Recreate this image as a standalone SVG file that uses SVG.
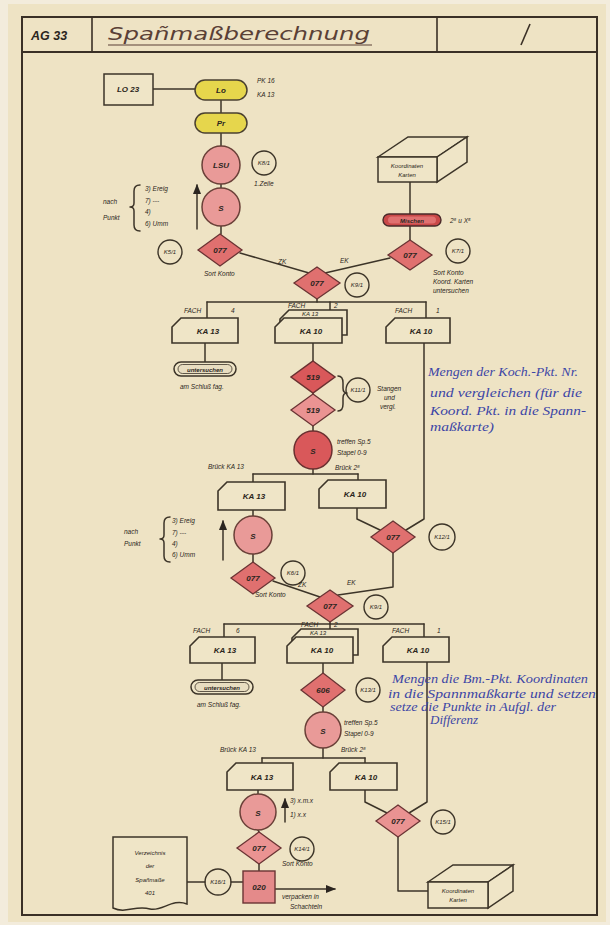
<svg xmlns="http://www.w3.org/2000/svg" width="610" height="925" viewBox="0 0 610 925">
  <defs>
    <style>
      .ln { stroke:#3c3428; stroke-width:1.5; fill:none; stroke-linecap:round; stroke-linejoin:round; }
      .box { stroke:#3c3428; stroke-width:1.5; fill:#efe5c7; }
      .card { stroke:#3c3428; stroke-width:1.6; fill:#efe5c7; }
      .yel { stroke:#4a4030; stroke-width:1.5; fill:#e6d64c; }
      .pink { stroke:#6a4038; stroke-width:1.5; fill:#e99a98; }
      .red { stroke:#6a3030; stroke-width:1.5; fill:#d9585a; }
      .dia { stroke:#6a3434; stroke-width:1.3; fill:#e0706f; }
      .dia2 { stroke:#6a3434; stroke-width:1.3; fill:#ea9392; }
      .ref { stroke:#3c3428; stroke-width:1.4; fill:none; }
      .t { font-family:"Liberation Sans", Arial, sans-serif; font-style:italic; fill:#2b2520; }
      .nl { font-size:8px; font-weight:bold; text-anchor:middle; }
      .sm { font-size:6.5px; }
      .rt { font-size:6px; text-anchor:middle; }
      .blue { font-family:"Liberation Serif", "Times New Roman", serif; font-style:italic; fill:#3c46a6; font-size:12px; }
    </style>
    <marker id="arr" viewBox="0 0 10 10" refX="9" refY="5" markerWidth="7" markerHeight="7" orient="auto-start-reverse">
      <path d="M0,1 L10,5 L0,9 Z" fill="#2b2520"/>
    </marker>
  </defs>

  <!-- paper -->
  <rect x="0" y="0" width="610" height="925" fill="#f3ecdc"/>
  <rect x="8" y="4" width="598" height="918" fill="#eee3c4"/>

  <!-- frame and title block -->
  <g id="frame">
    <rect x="22" y="17" width="575" height="898" fill="none" stroke="#3a3026" stroke-width="2"/>
    <line x1="22" y1="52" x2="597" y2="52" stroke="#3a3026" stroke-width="2"/>
    <line x1="92" y1="17" x2="92" y2="52" stroke="#3a3026" stroke-width="1.6"/>
    <line x1="437" y1="17" x2="437" y2="52" stroke="#3a3026" stroke-width="1.6"/>
    <text class="t" x="31" y="40" font-size="12.5" font-weight="bold" fill="#3a2c26">AG 33</text>
    <text x="108" y="40" font-family="'DejaVu Sans', sans-serif" font-style="italic" font-size="17" textLength="262" lengthAdjust="spacingAndGlyphs" fill="#5a4036">Spañmaßberechnung</text>
    <line x1="108" y1="45" x2="372" y2="45" stroke="#5a4036" stroke-width="1.2"/>
    <line x1="521" y1="45" x2="530" y2="24" stroke="#3a3026" stroke-width="1.6"/>
  </g>

  <!-- connectors -->
  <g id="connectors">
    <line class="ln" x1="153" y1="89" x2="195" y2="89"/>
    <line class="ln" x1="221" y1="100" x2="221" y2="113"/>
    <line class="ln" x1="221" y1="133" x2="221" y2="146"/>
    <line class="ln" x1="221" y1="184" x2="221" y2="188"/>
    <line class="ln" x1="221" y1="226" x2="221" y2="234"/>
    <line class="ln" x1="240" y1="253" x2="309" y2="273"/>
    <line class="ln" x1="390" y1="258" x2="325" y2="273"/>
    <line class="ln" x1="410" y1="182" x2="410" y2="215"/>
    <line class="ln" x1="410" y1="226" x2="410" y2="240"/>
    <line class="ln" x1="317" y1="299" x2="317" y2="302"/>
    <!-- first distribution -->
    <line class="ln" x1="207" y1="302" x2="426" y2="302"/>
    <line class="ln" x1="207" y1="302" x2="207" y2="318"/>
    <line class="ln" x1="330" y1="302" x2="330" y2="310"/>
    <line class="ln" x1="426" y1="302" x2="426" y2="318"/>
    <line class="ln" x1="205" y1="343" x2="205" y2="362"/>
    <line class="ln" x1="313" y1="343" x2="313" y2="361"/>
    <line class="ln" x1="313" y1="393" x2="313" y2="394"/>
    <line class="ln" x1="313" y1="426" x2="313" y2="431"/>
    <line class="ln" x1="313" y1="469" x2="313" y2="474"/>
    <path class="ln" d="M338,376 Q343,376 343,383 V388 Q343,393 347,393 Q343,393 343,398 V404 Q343,411 338,411"/>
    <polyline class="ln" points="424,343 424,519 406,530"/>
    <!-- second distribution -->
    <line class="ln" x1="253" y1="474" x2="358" y2="474"/>
    <line class="ln" x1="253" y1="474" x2="253" y2="482"/>
    <line class="ln" x1="358" y1="474" x2="358" y2="480"/>
    <polyline class="ln" points="357,508 357,519 380,530"/>
    <polyline class="ln" points="393,553 393,587 338,595"/>
    <line class="ln" x1="253" y1="510" x2="253" y2="516"/>
    <line class="ln" x1="253" y1="554" x2="253" y2="562"/>
    <line class="ln" x1="273" y1="581" x2="320" y2="597"/>
    <line class="ln" x1="330" y1="622" x2="330" y2="624"/>
    <!-- third distribution -->
    <line class="ln" x1="224" y1="624" x2="424" y2="624"/>
    <line class="ln" x1="224" y1="624" x2="224" y2="637"/>
    <line class="ln" x1="330" y1="624" x2="330" y2="629"/>
    <line class="ln" x1="424" y1="624" x2="424" y2="637"/>
    <line class="ln" x1="222" y1="663" x2="222" y2="680"/>
    <line class="ln" x1="323" y1="663" x2="323" y2="673"/>
    <line class="ln" x1="323" y1="707" x2="323" y2="712"/>
    <line class="ln" x1="323" y1="748" x2="323" y2="758"/>
    <!-- fourth distribution -->
    <line class="ln" x1="262" y1="758" x2="365" y2="758"/>
    <line class="ln" x1="262" y1="758" x2="262" y2="763"/>
    <line class="ln" x1="365" y1="758" x2="365" y2="763"/>
    <polyline class="ln" points="427,662 427,802 409,813"/>
    <polyline class="ln" points="365,790 365,802 387,813"/>
    <polyline class="ln" points="398,837 398,891 428,891"/>
    <line class="ln" x1="258" y1="790" x2="258" y2="794"/>
    <line class="ln" x1="258" y1="830" x2="259" y2="832"/>
    <line class="ln" x1="259" y1="864" x2="259" y2="871"/>
    <line class="ln" x1="187" y1="882" x2="205" y2="882"/>
    <line class="ln" x1="231" y1="882" x2="243" y2="882"/>
    <line class="ln" x1="275" y1="889" x2="335" y2="889" marker-end="url(#arr)"/>
    <!-- side arrows -->
    <line class="ln" x1="197" y1="229" x2="197" y2="185" marker-end="url(#arr)"/>
    <line class="ln" x1="223" y1="560" x2="223" y2="521" marker-end="url(#arr)"/>
    <line class="ln" x1="285" y1="822" x2="285" y2="799" marker-end="url(#arr)"/>
  </g>

  <!-- top chain -->
  <g id="lo23">
    <rect class="box" x="104" y="74" width="49" height="31"/>
    <text class="t nl" x="128" y="92" font-weight="normal">LO 23</text>
  </g>
  <g id="lo">
    <rect class="yel" x="195" y="80" width="52" height="20" rx="10"/>
    <text class="t nl" x="221" y="93">Lo</text>
    <text class="t sm" x="257" y="83">PK 16</text>
    <text class="t sm" x="257" y="97">KA 13</text>
  </g>
  <g id="pr">
    <rect class="yel" x="195" y="113" width="52" height="20" rx="10"/>
    <text class="t nl" x="221" y="126">Pr</text>
  </g>
  <g id="lsu">
    <circle class="pink" cx="221" cy="165" r="19"/>
    <text class="t nl" x="221" y="168">LSU</text>
    <circle class="ref" cx="264" cy="163" r="12"/>
    <text class="t rt" x="264" y="165">K8/1</text>
    <text class="t sm" x="254" y="186">1.Zeile</text>
  </g>
  <g id="s1">
    <circle class="pink" cx="221" cy="207" r="19"/>
    <text class="t nl" x="221" y="211" font-size="10">S</text>
    <text class="t sm" x="103" y="204">nach</text>
    <text class="t sm" x="103" y="220">Punkt</text>
    <path class="ln" d="M140,185 Q134,185 134,191 V203 Q134,207 130,207 Q134,207 134,211 V225 Q134,231 140,231" stroke-width="1.2"/>
    <text class="t sm" x="145" y="191">3) Ereig</text>
    <text class="t sm" x="145" y="203">7)  ---</text>
    <text class="t sm" x="145" y="214">4)</text>
    <text class="t sm" x="145" y="226">6) Umm</text>
  </g>
  <g id="d077a">
    <polygon class="dia" points="220,234 242,250 220,266 198,250"/>
    <text class="t nl" x="220" y="253">077</text>
    <circle class="ref" cx="170" cy="252" r="12"/>
    <text class="t rt" x="170" y="254">K5/1</text>
    <text class="t sm" x="204" y="276">Sort Konto</text>
    <text class="t sm" x="278" y="264">ZK</text>
  </g>
  <g id="kkarten1">
    <polygon class="box" points="378,157 408,137 467,137 437,157"/>
    <polygon class="box" points="437,157 467,137 467,162 437,182"/>
    <rect class="box" x="378" y="157" width="59" height="25"/>
    <text class="t rt" x="407" y="168">Koordinaten</text>
    <text class="t rt" x="407" y="177">Karten</text>
  </g>
  <g id="mischen">
    <rect x="383" y="214" width="58" height="12" rx="6" fill="#c94848" stroke="#4a2a2a" stroke-width="1.4"/>
    <rect x="388" y="216.5" width="48" height="7" rx="3.5" fill="#e07070"/>
    <text class="t rt" x="412" y="222.5" font-weight="bold">Mischen</text>
    <text class="t sm" x="450" y="223">2⁸ u X⁵</text>
  </g>
  <g id="d077b">
    <polygon class="dia" points="410,240 432,255 410,270 388,255"/>
    <text class="t nl" x="410" y="258">077</text>
    <circle class="ref" cx="458" cy="251" r="12"/>
    <text class="t rt" x="458" y="253">K7/1</text>
    <text class="t sm" x="433" y="275">Sort Konto</text>
    <text class="t sm" x="433" y="284">Koord. Karten</text>
    <text class="t sm" x="433" y="293">untersuchen</text>
    <text class="t sm" x="340" y="263">EK</text>
  </g>
  <g id="d077c">
    <polygon class="dia" points="317,267 340,283 317,299 294,283"/>
    <text class="t nl" x="317" y="286">077</text>
    <circle class="ref" cx="357" cy="285" r="12"/>
    <text class="t rt" x="357" y="287">K9/1</text>
  </g>

  <!-- first row of cards -->
  <g id="fach4a">
    <path class="card" d="M181,318 H238 V343 H172 V327 Z"/>
    <text class="t nl" x="208" y="334" font-weight="normal">KA 13</text>
    <text class="t sm" x="184" y="313">FACH</text>
    <text class="t sm" x="231" y="313">4</text>
  </g>
  <g id="fach2a">
    <path class="card" d="M289,310 H347 V335 H280 V319 Z"/>
    <path class="card" d="M284,318 H342 V343 H275 V327 Z"/>
    <text class="t nl" x="311" y="334" font-weight="normal">KA 10</text>
    <text class="t sm" x="288" y="308">FACH</text>
    <text class="t sm" x="334" y="308">2</text>
    <text class="t rt" x="310" y="316">KA 13</text>
  </g>
  <g id="fach1a">
    <path class="card" d="M395,318 H450 V343 H386 V327 Z"/>
    <text class="t nl" x="421" y="334" font-weight="normal">KA 10</text>
    <text class="t sm" x="395" y="313">FACH</text>
    <text class="t sm" x="436" y="313">1</text>
  </g>
  <g id="unters1">
    <rect x="174" y="362" width="62" height="14" rx="7" fill="#efe5c7" stroke="#3c3428" stroke-width="1.5"/>
    <rect x="178" y="364.5" width="54" height="9" rx="4.5" fill="#e8ddc0" stroke="#3c3428" stroke-width="0.8"/>
    <text class="t rt" x="205" y="371.5" font-weight="bold">untersuchen</text>
    <text class="t sm" x="180" y="389">am Schluß fag.</text>
  </g>
  <g id="d519a">
    <polygon class="red" points="313,361 335,377 313,393 291,377"/>
    <text class="t nl" x="313" y="380">519</text>
  </g>
  <g id="d519b">
    <polygon class="dia2" points="313,394 335,410 313,426 291,410"/>
    <text class="t nl" x="313" y="413">519</text>
    <circle class="ref" cx="358" cy="390" r="12"/>
    <text class="t rt" x="358" y="392">K11/1</text>
    <text class="t sm" x="377" y="391">Stangen</text>
    <text class="t sm" x="384" y="400">und</text>
    <text class="t sm" x="380" y="409">vergl.</text>
  </g>
  <g id="s2">
    <circle class="red" cx="313" cy="450" r="19"/>
    <text class="t nl" x="313" y="454" font-size="10">S</text>
    <text class="t sm" x="337" y="444">treffen Sp.5</text>
    <text class="t sm" x="337" y="455">Stapel  0-9</text>
    <text class="t sm" x="208" y="469">Brück  KA 13</text>
    <text class="t sm" x="335" y="470">Brück  2⁸</text>
  </g>
  <g id="note1">
    <text class="blue" x="428" y="376" textLength="150" lengthAdjust="spacingAndGlyphs">Mengen der Koch.-Pkt. Nr.</text>
    <text class="blue" x="430" y="397" textLength="152" lengthAdjust="spacingAndGlyphs">und vergleichen (für die</text>
    <text class="blue" x="430" y="415" textLength="156" lengthAdjust="spacingAndGlyphs">Koord. Pkt. in die Spann-</text>
    <text class="blue" x="430" y="431" textLength="64" lengthAdjust="spacingAndGlyphs">maßkarte)</text>
  </g>

  <!-- second row -->
  <g id="ka13b">
    <path class="card" d="M227,482 H285 V510 H218 V491 Z"/>
    <text class="t nl" x="254" y="499" font-weight="normal">KA 13</text>
  </g>
  <g id="ka10b">
    <path class="card" d="M328,480 H386 V508 H319 V489 Z"/>
    <text class="t nl" x="355" y="497" font-weight="normal">KA 10</text>
  </g>
  <g id="s3">
    <circle class="pink" cx="253" cy="535" r="19"/>
    <text class="t nl" x="253" y="539" font-size="10">S</text>
    <text class="t sm" x="124" y="534">nach</text>
    <text class="t sm" x="124" y="546">Punkt</text>
    <path class="ln" d="M170,517 Q164,517 164,523 V535 Q164,539 160,539 Q164,539 164,543 V556 Q164,562 170,562" stroke-width="1.2"/>
    <text class="t sm" x="172" y="523">3) Ereig</text>
    <text class="t sm" x="172" y="535">7)  ---</text>
    <text class="t sm" x="172" y="546">4)</text>
    <text class="t sm" x="172" y="557">6) Umm</text>
  </g>
  <g id="d077d">
    <polygon class="dia" points="253,562 275,578 253,594 231,578"/>
    <text class="t nl" x="253" y="581">077</text>
    <circle class="ref" cx="293" cy="573" r="12"/>
    <text class="t rt" x="293" y="575">K6/1</text>
    <text class="t sm" x="255" y="597">Sort Konto</text>
    <text class="t sm" x="298" y="587">ZK</text>
  </g>
  <g id="d077e">
    <polygon class="dia" points="393,521 415,537 393,553 371,537"/>
    <text class="t nl" x="393" y="540">077</text>
    <circle class="ref" cx="442" cy="537" r="13"/>
    <text class="t rt" x="442" y="539">K12/1</text>
    <text class="t sm" x="347" y="585">EK</text>
  </g>
  <g id="d077f">
    <polygon class="dia" points="330,590 353,606 330,622 307,606"/>
    <text class="t nl" x="330" y="609">077</text>
    <circle class="ref" cx="376" cy="607" r="12"/>
    <text class="t rt" x="376" y="609">K9/1</text>
  </g>

  <!-- third row of cards -->
  <g id="fach6">
    <path class="card" d="M199,637 H255 V663 H190 V646 Z"/>
    <text class="t nl" x="225" y="653" font-weight="normal">KA 13</text>
    <text class="t sm" x="193" y="633">FACH</text>
    <text class="t sm" x="236" y="633">6</text>
  </g>
  <g id="fach2b">
    <path class="card" d="M301,629 H358 V655 H292 V638 Z"/>
    <path class="card" d="M296,637 H353 V663 H287 V646 Z"/>
    <text class="t nl" x="322" y="653" font-weight="normal">KA 10</text>
    <text class="t sm" x="301" y="627">FACH</text>
    <text class="t sm" x="334" y="627">2</text>
    <text class="t rt" x="318" y="635">KA 13</text>
  </g>
  <g id="fach1b">
    <path class="card" d="M392,637 H449 V662 H383 V646 Z"/>
    <text class="t nl" x="418" y="653" font-weight="normal">KA 10</text>
    <text class="t sm" x="392" y="633">FACH</text>
    <text class="t sm" x="437" y="633">1</text>
  </g>
  <g id="unters2">
    <rect x="191" y="680" width="62" height="14" rx="7" fill="#efe5c7" stroke="#3c3428" stroke-width="1.5"/>
    <rect x="195" y="682.5" width="54" height="9" rx="4.5" fill="#e8ddc0" stroke="#3c3428" stroke-width="0.8"/>
    <text class="t rt" x="222" y="689.5" font-weight="bold">untersuchen</text>
    <text class="t sm" x="197" y="707">am Schluß fag.</text>
  </g>
  <g id="d606">
    <polygon class="dia" points="323,673 345,690 323,707 301,690"/>
    <text class="t nl" x="323" y="693">606</text>
    <circle class="ref" cx="368" cy="690" r="12"/>
    <text class="t rt" x="368" y="692">K13/1</text>
  </g>
  <g id="s4">
    <circle class="pink" cx="323" cy="730" r="18"/>
    <text class="t nl" x="323" y="734" font-size="10">S</text>
    <text class="t sm" x="344" y="725">treffen Sp.5</text>
    <text class="t sm" x="344" y="736">Stapel  0-9</text>
    <text class="t sm" x="220" y="752">Brück  KA 13</text>
    <text class="t sm" x="341" y="752">Brück  2⁸</text>
  </g>
  <g id="note2">
    <text class="blue" x="392" y="683" textLength="196" lengthAdjust="spacingAndGlyphs">Mengen die Bm.-Pkt. Koordinaten</text>
    <text class="blue" x="388" y="698" textLength="208" lengthAdjust="spacingAndGlyphs">in die Spannmaßkarte und setzen</text>
    <text class="blue" x="390" y="711" textLength="166" lengthAdjust="spacingAndGlyphs">setze die Punkte in Aufgl. der</text>
    <text class="blue" x="430" y="724" textLength="48" lengthAdjust="spacingAndGlyphs">Differenz</text>
  </g>

  <!-- fourth row -->
  <g id="ka13d">
    <path class="card" d="M236,763 H293 V790 H227 V772 Z"/>
    <text class="t nl" x="262" y="780" font-weight="normal">KA 13</text>
  </g>
  <g id="ka10d">
    <path class="card" d="M339,763 H397 V790 H330 V772 Z"/>
    <text class="t nl" x="366" y="780" font-weight="normal">KA 10</text>
  </g>
  <g id="s5">
    <circle class="pink" cx="258" cy="812" r="18"/>
    <text class="t nl" x="258" y="816" font-size="10">S</text>
    <text class="t sm" x="290" y="803">3) x.m.x</text>
    <text class="t sm" x="290" y="817">1) x.x</text>
  </g>
  <g id="d077g">
    <polygon class="dia2" points="259,832 281,848 259,864 237,848"/>
    <text class="t nl" x="259" y="851">077</text>
    <circle class="ref" cx="302" cy="849" r="12"/>
    <text class="t rt" x="302" y="851">K14/1</text>
    <text class="t sm" x="282" y="866">Sort Konto</text>
  </g>
  <g id="d077h">
    <polygon class="dia2" points="398,805 420,821 398,837 376,821"/>
    <text class="t nl" x="398" y="824">077</text>
    <circle class="ref" cx="443" cy="822" r="12"/>
    <text class="t rt" x="443" y="824">K15/1</text>
  </g>
  <g id="kkarten2">
    <polygon class="box" points="428,882 453,865 513,865 488,882"/>
    <polygon class="box" points="488,882 513,865 513,891 488,908"/>
    <rect class="box" x="428" y="882" width="60" height="26"/>
    <text class="t rt" x="458" y="893">Koordinaten</text>
    <text class="t rt" x="458" y="902">Karten</text>
  </g>
  <g id="verz">
    <path class="box" d="M113,837 H187 V904 C172,898 162,912 150,909 C135,905 126,914 113,908 Z"/>
    <text class="t rt" x="150" y="855">Verzeichnis</text>
    <text class="t rt" x="150" y="868">der</text>
    <text class="t rt" x="150" y="882">Spañmaße</text>
    <text class="t rt" x="150" y="895">401</text>
    <circle class="ref" cx="218" cy="882" r="13"/>
    <text class="t rt" x="218" y="884">K16/1</text>
  </g>
  <g id="n020">
    <rect x="243" y="871" width="32" height="32" fill="#e48a8a" stroke="#6a3434" stroke-width="1.4"/>
    <text class="t nl" x="259" y="890">020</text>
    <text class="t sm" x="282" y="899">verpacken in</text>
    <text class="t sm" x="290" y="909">Schachteln</text>
  </g>
</svg>
